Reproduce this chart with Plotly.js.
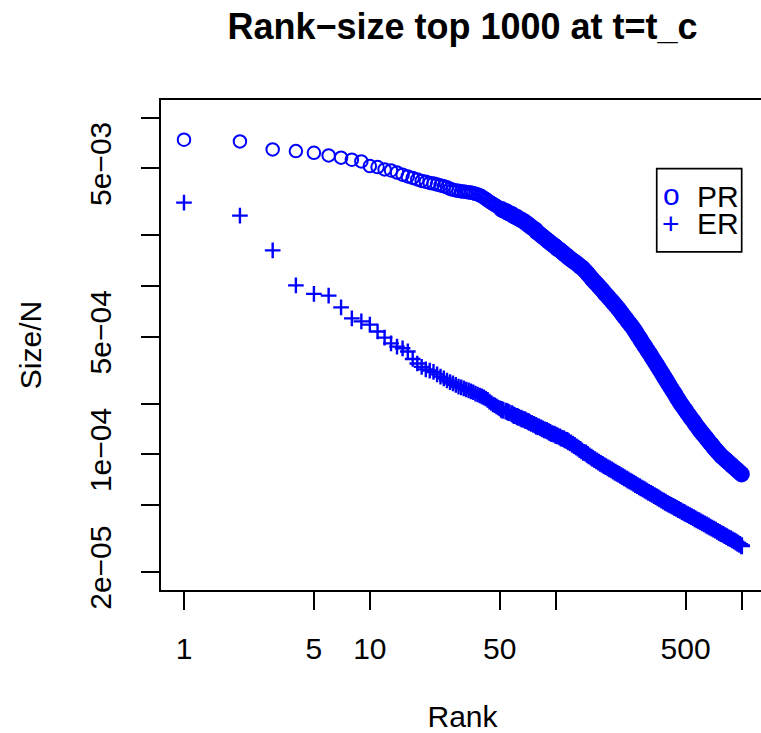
<!DOCTYPE html>
<html>
<head>
<meta charset="utf-8">
<script src="https://cdn.plot.ly/plotly-3.0.1.min.js"></script>
<style>
html,body{margin:0;padding:0;overflow:hidden;background:#ffffff;}
#chart{width:766px;height:733px;}
</style>
</head>
<body>
<div id="chart"></div>
<script>
// ---- data ----
const ranks = [
  1,2,3,4,5,6,7,8,9,10,11,12,13,14,15,16,17,18,19,20,
  21,22,23,24,25,26,27,28,29,30,31,32,33,34,35,36,37,38,39,40,
  41,42,43,44,45,46,47,48,49,50,
  51,52,54,55,56,58,59,60,62,63,
  65,66,68,69,71,72,74,76,78,79,
  81,83,85,87,89,91,93,95,98,100,
  102,105,107,110,112,115,117,120,123,126,
  129,132,135,138,141,145,148,151,155,158,
  162,166,170,174,178,182,186,191,195,200,
  204,209,214,219,224,229,234,240,245,251,
  257,263,269,275,282,288,295,302,309,316,
  324,331,339,347,355,363,372,380,389,398,
  407,417,427,437,447,457,468,479,490,501,
  513,525,537,550,562,575,589,603,617,631,
  646,661,676,692,708,724,741,759,776,794,
  813,832,851,871,891,912,933,955,977,1000
];

const sizePR = [
  7.40e-3,7.23e-3,6.48e-3,6.33e-3,6.19e-3,5.97e-3,5.79e-3,5.63e-3,5.50e-3,5.16e-3,
  5.09e-3,4.93e-3,4.86e-3,4.72e-3,4.59e-3,4.48e-3,4.39e-3,4.30e-3,4.21e-3,4.16e-3,
  4.10e-3,4.06e-3,4.01e-3,3.96e-3,3.91e-3,3.86e-3,3.78e-3,3.73e-3,3.70e-3,3.68e-3,
  3.65e-3,3.64e-3,3.62e-3,3.60e-3,3.59e-3,3.56e-3,3.53e-3,3.50e-3,3.46e-3,3.41e-3,
  3.35e-3,3.29e-3,3.23e-3,3.17e-3,3.12e-3,3.08e-3,3.03e-3,2.99e-3,2.94e-3,2.91e-3,
  2.86e-3,2.82e-3,2.78e-3,2.74e-3,2.71e-3,2.67e-3,2.63e-3,2.59e-3,2.56e-3,2.52e-3,
  2.48e-3,2.45e-3,2.41e-3,2.37e-3,2.33e-3,2.28e-3,2.24e-3,2.19e-3,2.15e-3,2.10e-3,
  2.06e-3,2.01e-3,1.97e-3,1.93e-3,1.89e-3,1.85e-3,1.82e-3,1.78e-3,1.74e-3,1.71e-3,
  1.67e-3,1.64e-3,1.61e-3,1.57e-3,1.54e-3,1.51e-3,1.48e-3,1.45e-3,1.42e-3,1.39e-3,
  1.37e-3,1.34e-3,1.31e-3,1.29e-3,1.26e-3,1.22e-3,1.19e-3,1.16e-3,1.12e-3,1.09e-3,
  1.06e-3,1.03e-3,1.00e-3,9.73e-4,9.45e-4,9.18e-4,8.91e-4,8.66e-4,8.41e-4,8.17e-4,
  7.94e-4,7.71e-4,7.48e-4,7.24e-4,7.01e-4,6.78e-4,6.56e-4,6.35e-4,6.14e-4,5.94e-4,
  5.75e-4,5.55e-4,5.34e-4,5.13e-4,4.93e-4,4.74e-4,4.56e-4,4.38e-4,4.21e-4,4.05e-4,
  3.89e-4,3.74e-4,3.59e-4,3.45e-4,3.31e-4,3.18e-4,3.05e-4,2.93e-4,2.81e-4,2.70e-4,
  2.59e-4,2.48e-4,2.38e-4,2.29e-4,2.19e-4,2.11e-4,2.02e-4,1.95e-4,1.88e-4,1.82e-4,
  1.75e-4,1.69e-4,1.63e-4,1.58e-4,1.52e-4,1.47e-4,1.42e-4,1.37e-4,1.33e-4,1.29e-4,
  1.25e-4,1.21e-4,1.17e-4,1.14e-4,1.10e-4,1.07e-4,1.04e-4,1.01e-4,9.81e-5,9.59e-5,
  9.38e-5,9.16e-5,8.96e-5,8.76e-5,8.56e-5,8.37e-5,8.18e-5,8.00e-5,7.82e-5,7.64e-5
];

const sizeER = [
  3.13e-3,2.62e-3,1.63e-3,1.01e-3,8.99e-4,8.77e-4,7.47e-4,6.43e-4,6.17e-4,5.90e-4,
  5.37e-4,4.94e-4,4.57e-4,4.37e-4,4.27e-4,4.09e-4,3.69e-4,3.47e-4,3.31e-4,3.20e-4,
  3.15e-4,3.09e-4,2.99e-4,2.90e-4,2.83e-4,2.75e-4,2.69e-4,2.64e-4,2.59e-4,2.53e-4,
  2.50e-4,2.47e-4,2.43e-4,2.40e-4,2.37e-4,2.34e-4,2.30e-4,2.27e-4,2.24e-4,2.21e-4,
  2.18e-4,2.15e-4,2.11e-4,2.06e-4,2.02e-4,1.98e-4,1.96e-4,1.93e-4,1.90e-4,1.88e-4,
  1.85e-4,1.83e-4,1.81e-4,1.79e-4,1.77e-4,1.75e-4,1.72e-4,1.70e-4,1.68e-4,1.66e-4,
  1.64e-4,1.62e-4,1.61e-4,1.59e-4,1.57e-4,1.55e-4,1.53e-4,1.51e-4,1.49e-4,1.47e-4,
  1.46e-4,1.44e-4,1.42e-4,1.40e-4,1.39e-4,1.37e-4,1.35e-4,1.33e-4,1.32e-4,1.30e-4,
  1.29e-4,1.27e-4,1.25e-4,1.24e-4,1.22e-4,1.21e-4,1.19e-4,1.17e-4,1.15e-4,1.13e-4,
  1.11e-4,1.09e-4,1.07e-4,1.05e-4,1.03e-4,1.02e-4,9.99e-5,9.82e-5,9.65e-5,9.48e-5,
  9.32e-5,9.16e-5,9.01e-5,8.86e-5,8.73e-5,8.59e-5,8.46e-5,8.33e-5,8.21e-5,8.09e-5,
  7.96e-5,7.84e-5,7.72e-5,7.61e-5,7.49e-5,7.38e-5,7.27e-5,7.16e-5,7.05e-5,6.94e-5,
  6.84e-5,6.73e-5,6.63e-5,6.53e-5,6.43e-5,6.34e-5,6.24e-5,6.15e-5,6.06e-5,5.96e-5,
  5.87e-5,5.79e-5,5.70e-5,5.61e-5,5.53e-5,5.44e-5,5.36e-5,5.28e-5,5.20e-5,5.12e-5,
  5.05e-5,4.98e-5,4.91e-5,4.84e-5,4.78e-5,4.71e-5,4.65e-5,4.58e-5,4.52e-5,4.45e-5,
  4.39e-5,4.33e-5,4.27e-5,4.21e-5,4.15e-5,4.09e-5,4.04e-5,3.98e-5,3.92e-5,3.87e-5,
  3.81e-5,3.76e-5,3.70e-5,3.65e-5,3.60e-5,3.55e-5,3.49e-5,3.44e-5,3.39e-5,3.35e-5,
  3.30e-5,3.25e-5,3.20e-5,3.16e-5,3.11e-5,3.07e-5,3.02e-5,2.97e-5,2.92e-5,2.87e-5
];

const seriesNames = ['PR', 'ER'];
const legendGlyphs = ['o', '+'];

const xTickVals = [1, 5, 10, 50, 100, 500, 1000];
const xTickText = ['1', '5', '10', '50', '', '500', ''];
const yTickVals = [2e-5, 5e-5, 1e-4, 2e-4, 5e-4, 1e-3, 2e-3, 5e-3, 1e-2];
const yTickText = ['2e\u221205', '', '1e\u221204', '', '5e\u221204', '', '', '5e\u221203', ''];

const titleText = 'Rank\u2212size top 1000 at t=t_c';
const xTitle = 'Rank';
const yTitle = 'Size/N';

// ---- styling ----
const BLUE = '#0000ff';
const FONT = 'Liberation Sans, Arial, Helvetica, sans-serif';
// where the 1000 points crowd into a solid band, draw the symbols a bit heavier
const DENSE_FROM = 50;
const prSize = ranks.map(r => r > DENSE_FROM ? 12.5 : 12.5);
const prWidth = ranks.map(r => r > DENSE_FROM ? 4 : 2);
const erSize = ranks.map(r => r > DENSE_FROM ? 12 : 11.2);
const erWidth = ranks.map(r => r > DENSE_FROM ? 3 : 2.4);

const traces = [
  {
    x: ranks, y: sizePR, name: seriesNames[0], type: 'scatter', mode: 'markers',
    marker: {symbol: 'circle-open', size: prSize, opacity: 1, color: BLUE, line: {color: BLUE, width: prWidth}},
    showlegend: false, hoverinfo: 'skip'
  },
  {
    x: ranks, y: sizeER, name: seriesNames[1], type: 'scatter', mode: 'markers',
    marker: {symbol: 'cross-thin-open', size: erSize, opacity: 1, color: BLUE, line: {color: BLUE, width: erWidth}},
    showlegend: false, hoverinfo: 'skip'
  }
];

const axisCommon = {
  showgrid: false, zeroline: false, showline: true, mirror: true,
  linecolor: '#000', linewidth: 2,
  ticks: 'outside', ticklen: 18, tickwidth: 2, tickcolor: '#000',
  tickfont: {family: FONT, size: 30, color: '#000'},
  tickmode: 'array', automargin: false, fixedrange: true
};

const layout = {
  width: 766, height: 733,
  margin: {l: 161, r: 2, t: 99.5, b: 142.5, pad: 0},
  paper_bgcolor: '#fff', plot_bgcolor: '#fff',
  font: {family: FONT, color: '#000'},
  showlegend: false,
  title: {
    text: titleText, font: {family: FONT, size: 36, weight: 'bold', color: '#000'},
    xref: 'paper', x: 0.5, xanchor: 'center', yref: 'container', y: 1 - 26 / 733, yanchor: 'middle'
  },
  xaxis: Object.assign({}, axisCommon, {
    type: 'log', range: [-0.1237, 3.1205],
    tickvals: xTickVals, ticktext: xTickText, ticklabelstandoff: 13,
    title: {text: xTitle, font: {family: FONT, size: 30, color: '#000'}, standoff: 48}
  }),
  yaxis: Object.assign({}, axisCommon, {
    type: 'log', range: [-4.805, -1.895],
    tickvals: yTickVals, ticktext: yTickText, tickangle: -90, ticklabelstandoff: 18,
    title: {text: yTitle, font: {family: FONT, size: 30, color: '#000'}, standoff: 34}
  }),
  shapes: [
    {type: 'rect', xref: 'paper', yref: 'paper', x0: 0.8221, x1: 0.9630, y0: 0.6901, y1: 0.8599,
     line: {color: '#000', width: 1.7}, fillcolor: 'rgba(0,0,0,0)'}
  ],
  annotations: [
    {text: legendGlyphs[0], xref: 'paper', yref: 'paper', x: 0.8458, y: 0.8088, xanchor: 'center', yanchor: 'middle',
     height: 24, showarrow: false, font: {family: FONT, size: 30, color: BLUE}},
    {text: seriesNames[0], xref: 'paper', yref: 'paper', x: 0.8856, y: 0.8021, xanchor: 'left', yanchor: 'middle',
     height: 25, showarrow: false, font: {family: FONT, size: 30, color: '#000'}},
    {text: legendGlyphs[1], xref: 'paper', yref: 'paper', x: 0.8458, y: 0.7496, xanchor: 'center', yanchor: 'middle',
     height: 24, showarrow: false, font: {family: FONT, size: 30, color: BLUE}},
    {text: seriesNames[1], xref: 'paper', yref: 'paper', x: 0.8856, y: 0.7472, xanchor: 'left', yanchor: 'middle',
     height: 25, showarrow: false, font: {family: FONT, size: 30, color: '#000'}}
  ]
};

Plotly.newPlot('chart', traces, layout, {staticPlot: true, displayModeBar: false});
</script>
</body>
</html>
